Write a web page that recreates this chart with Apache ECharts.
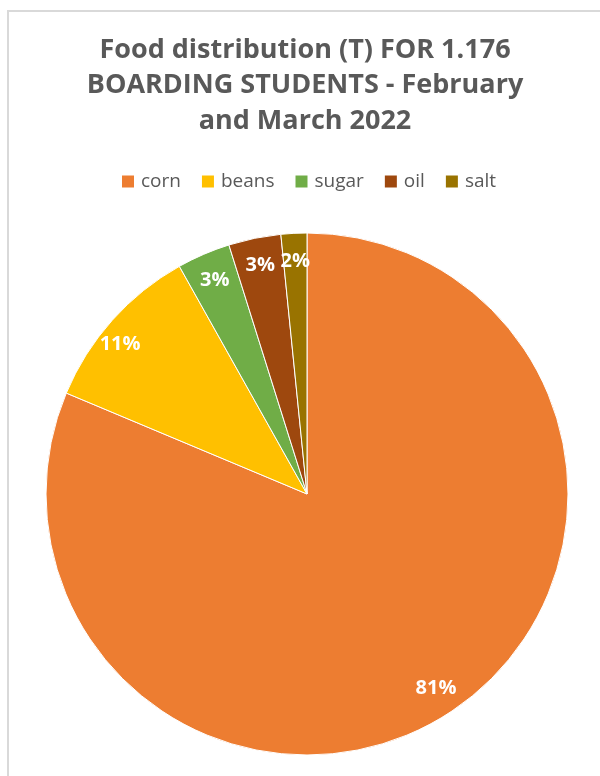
<!DOCTYPE html>
<html><head><meta charset="utf-8">
<script src="https://cdn.jsdelivr.net/npm/echarts@6/dist/echarts.min.js"></script>
<style>html,body{margin:0;padding:0;background:#fff}#c{width:600px;height:776px}</style>
</head><body><div id="c"></div>
<script>
const categories = ['corn', 'beans', 'sugar', 'oil', 'salt'];
const values = [40.7, 5.28, 1.65, 1.62, 0.8];
const colors = ['#ED7D31', '#FFC000', '#70AD47', '#9E480E', '#997300'];
const titleLines = ['Food distribution (T) FOR 1.176', 'BOARDING STUDENTS - February', 'and March 2022'];

const data = categories.map((c, i) => ({ name: c, value: values[i], itemStyle: { color: colors[i] } }));
const titleFont = { fontFamily: 'Open Sans', fontWeight: 'bold', fontSize: 27 };
const graphics = [{ type: 'rect', shape: { x: 8, y: 11, width: 700, height: 900 }, style: { fill: 'none', stroke: '#d9d9d9', lineWidth: 2 } }];
titleLines.forEach((t, i) => graphics.push({
  type: 'text', x: 305, y: 50 + i * 35.5,
  style: Object.assign({ text: t, fill: '#595959', align: 'center', verticalAlign: 'middle' }, titleFont)
}));
// Excel "best fit" nudges the beans label outward
const labelOffsets = { beans: [-13, 5] };
const chart = echarts.init(document.getElementById('c'));
chart.setOption({
  animation: false,
  graphic: graphics,
  legend: {
    data: categories, left: 120, top: 172, padding: 0, icon: 'rect', itemWidth: 14, itemHeight: 14, itemGap: 19,
    textStyle: { fontFamily: 'Open Sans', fontSize: 19, color: '#595959', padding: [0, 0, 0, 1] }
  },
  series: [{
    type: 'pie', center: [307, 494], radius: [0, 261], startAngle: 90, clockwise: true,
    data: data, label: { show: false }, labelLine: { show: false },
    itemStyle: { borderColor: '#fff', borderWidth: 1 }, emphasis: { disabled: true }
  }, {
    type: 'pie', center: [307, 494], radius: [199, 261], startAngle: 90, clockwise: true, silent: true,
    percentPrecision: 0, avoidLabelOverlap: false,
    data: data.map(d => ({ name: d.name, value: d.value, itemStyle: { color: 'rgba(0,0,0,0)' },
      label: labelOffsets[d.name] ? { offset: labelOffsets[d.name] } : {} })),
    legendHoverLink: false,
    label: { show: true, position: 'inside', formatter: '{d}%', color: '#fff', fontFamily: 'Open Sans', fontWeight: 'bold', fontSize: 20 },
    labelLayout: { hideOverlap: false },
    labelLine: { show: false }, emphasis: { disabled: true }
  }]
});
</script></body></html>
